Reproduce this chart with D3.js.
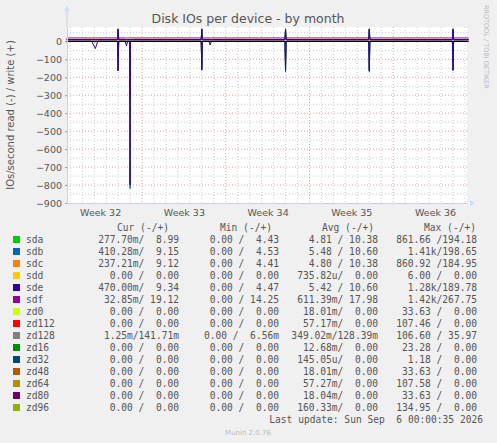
<!DOCTYPE html>
<html>
<head>
<meta charset="UTF-8">
<script src="https://cdn.jsdelivr.net/npm/d3@7"></script>
<style>
  body { margin: 0; background: #f0f0f0; }
  text { font-family: "DejaVu Sans", sans-serif; fill: #555; }
  .mono { font-family: "DejaVu Sans Mono", monospace; font-size: 9.6px; white-space: pre; fill: #555; }
</style>
</head>
<body>
<div id="chart"></div>
<script>
// time in days since start of week 32
const days = [0.7, 2.8, 3.1, 3.3, 4.95, 5.0, 5.05, 5.6, 5.7, 5.8, 5.97, 6.0, 6.03, 6.2,
  11.95, 12.0, 12.05, 12.6, 12.7, 12.8, 18.95, 19.0, 19.05, 25.95, 26.0, 26.05, 32.95, 33.0, 33.05, 34.3];
const weekLabels = ["Week 32", "Week 33", "Week 34", "Week 35", "Week 36"];

// write (+) and read (-) series
const sdaW = [9,9,9,9,9,66,9,9,9,9,9,9,9,9,9,66,9,9,9,9,9,66,9,9,66,9,9,66,9,9];
const sdaR = [0,0,0,0,0,150,0,0,0,0,0,0,0,0,0,150,0,0,0,0,0,155,0,0,155,0,0,150,0,0];
const sdbW = [10,10,10,10,10,68,10,10,10,10,10,10,10,10,10,68,10,10,10,10,10,68,10,10,68,10,10,68,10,10];
const sdbR = [0,0,0,0,0,160,0,0,0,0,0,820,0,0,0,160,0,0,0,0,0,165,0,0,165,0,0,160,0,0];
const sdcW = [9,9,9,9,9,64,9,9,9,9,9,9,9,9,9,64,9,9,9,9,9,64,9,9,64,9,9,64,9,9];
const sdcR = [0,0,0,0,0,165,0,0,0,0,0,0,0,0,0,150,0,0,0,0,0,150,0,0,150,0,0,150,0,0];
const sdeW = [10,10,10,10,10,70,10,10,10,10,10,10,10,10,10,70,10,10,10,10,10,70,10,10,70,10,10,70,10,10];
const sdeR = [0,0,40,0,0,165,0,0,25,0,0,800,0,0,0,160,0,0,20,0,0,168,0,0,168,0,0,162,0,0];
const sdfW = [19,19,19,19,19,22,19,19,19,19,19,19,19,19,19,22,19,19,19,19,19,22,19,19,22,19,19,22,19,19];
const sdfR = [0,0,2,0,0,5,0,0,2,0,0,310,0,0,0,5,0,0,2,0,0,5,0,0,5,0,0,5,0,0];

const names = ["sda","sdb","sdc","sdd","sde","sdf","zd0","zd112","zd128","zd16","zd32","zd48","zd64","zd80","zd96"];
const colors = ["#00cc00","#0066b3","#ff8000","#ffcc00","#330099","#990099","#ccff00","#ff0000","#808080","#008f00","#00487d","#b35a00","#b38f00","#6b006b","#8fb300"];
const cur = ["277.70m/  8.99","410.28m/  9.15","237.21m/  9.12","  0.00 /  0.00","470.00m/  9.34"," 32.85m/ 19.12","  0.00 /  0.00","  0.00 /  0.00","  1.25m/141.71m","  0.00 /  0.00","  0.00 /  0.00","  0.00 /  0.00","  0.00 /  0.00","  0.00 /  0.00","  0.00 /  0.00"];
const mins = ["0.00 /  4.43","0.00 /  4.53","0.00 /  4.41","0.00 /  0.00","0.00 /  4.47","0.00 / 14.25","0.00 /  0.00","0.00 /  0.00","0.00 /  6.56m","0.00 /  0.00","0.00 /  0.00","0.00 /  0.00","0.00 /  0.00","0.00 /  0.00","0.00 /  0.00"];
const avgs = ["4.81 / 10.38","5.48 / 10.60","4.80 / 10.38","735.82u/  0.00","5.42 / 10.60","611.39m/ 17.98","18.01m/  0.00","57.17m/  0.00","349.02m/128.39m","12.68m/  0.00","145.05u/  0.00","18.01m/  0.00","57.27m/  0.00","18.04m/  0.00","160.33m/  0.00"];
const maxs = ["861.66 /194.18","1.41k/198.65","860.92 /184.95","6.00 /  0.00","1.28k/189.78","1.42k/267.75","33.63 /  0.00","107.46 /  0.00","106.60 / 35.97","23.28 /  0.00","1.18 /  0.00","33.63 /  0.00","107.58 /  0.00","33.63 /  0.00","134.95 /  0.00"];

const series = [
  {c: colors[0], w: sdaW, r: sdaR}, {c: colors[2], w: sdcW, r: sdcR},
  {c: colors[1], w: sdbW, r: sdbR}, {c: colors[5], w: sdfW, r: sdfR},
  {c: colors[4], w: sdeW, r: sdeR}
];

const W = 497, H = 443;
const L = 67, R = 467, T = 27, B = 203;
const svg = d3.select("#chart").append("svg").attr("width", W).attr("height", H);
svg.append("rect").attr("width", W).attr("height", H).attr("fill", "#f0f0f0");
svg.append("rect").attr("x", L).attr("y", T).attr("width", R - L).attr("height", B - T).attr("fill", "#fff");

const x = d3.scaleLinear().domain([0.73, 34.17]).range([L, R]);
const y = d3.scaleLinear().domain([-900, 80]).range([B, T]);

// grid
const g = svg.append("g");
g.selectAll(".vd").data(d3.range(1, 35)).join("line")
  .attr("x1", d => x(d)).attr("x2", d => x(d)).attr("y1", T).attr("y2", B)
  .attr("stroke", d => d % 7 === 0 ? "#e8a0a0" : "#ccc").attr("stroke-dasharray", "1,2");
g.selectAll(".hd").data(d3.range(-850, 80, 50)).join("line")
  .attr("x1", L).attr("x2", R).attr("y1", d => y(d)).attr("y2", d => y(d))
  .attr("stroke", d => d % 100 === 0 ? "#e8a0a0" : "#ccc").attr("stroke-dasharray", "1,2");

// lines
const line = d3.line().x((d, i) => x(days[i]));
series.forEach(s => {
  svg.append("path").attr("d", line.y(d => y(d))(s.w)).attr("fill", "none").attr("stroke", s.c).attr("stroke-width", 1);
  svg.append("path").attr("d", line.y(d => y(-d))(s.r)).attr("fill", "none").attr("stroke", s.c).attr("stroke-width", 1);
});
svg.append("line").attr("x1", L).attr("x2", R).attr("y1", y(0)).attr("y2", y(0)).attr("stroke", "#000");

// axes
const yAxis = d3.axisLeft(y).tickValues(d3.range(-900, 1, 100)).tickSize(2).tickSizeOuter(0);
const ya = svg.append("g").attr("transform", `translate(${L},0)`).call(yAxis);
ya.selectAll("text").style("font-size", "9.5px").attr("fill", "#555");
ya.select(".domain").attr("stroke", "#ccd");
ya.selectAll(".tick line").attr("stroke", "#999");
const xAxis = d3.axisBottom(x).tickValues([3.5, 10.5, 17.5, 24.5, 31.5])
  .tickFormat((d, i) => weekLabels[i]).tickSize(0).tickSizeOuter(0);
const xa = svg.append("g").attr("transform", `translate(0,${B})`).call(xAxis);
xa.selectAll("text").style("font-size", "9.5px").attr("fill", "#555").attr("dy", "1.1em");
xa.select(".domain").attr("stroke", "#ccd");
svg.append("path").attr("d", `M${R+3},${B-3}L${R+8},${B}L${R+3},${B+3}Z`).attr("fill", "#ccdcff");
svg.append("path").attr("d", `M${L-3},${T-16}L${L},${T-21}L${L+3},${T-16}Z`).attr("fill", "#ccdcff");
svg.append("line").attr("x1", L).attr("x2", L).attr("y1", T - 16).attr("y2", T).attr("stroke", "#ccd");

// texts
svg.append("text").attr("x", 248).attr("y", 23).attr("text-anchor", "middle").style("font-size", "12.5px").attr("fill", "#444").text("Disk IOs per device - by month");
svg.append("text").attr("transform", "translate(14,115) rotate(-90)").attr("text-anchor", "middle").style("font-size", "10px").text("IOs/second read (-) / write (+)");
svg.append("text").attr("transform", "translate(484,5) rotate(90)").style("font-size", "6.5px").style("fill", "#bbb").text("RRDTOOL / TOBI OETIKER");

// legend
const heads = [["Cur (-/+)", 169], ["Min (-/+)", 272], ["Avg (-/+)", 374], ["Max (-/+)", 476]];
heads.forEach(h => svg.append("text").attr("class", "mono").attr("x", h[1]).attr("y", 231).attr("text-anchor", "end").text(h[0]));
const row = svg.append("g").selectAll("g").data(names).join("g")
  .attr("transform", (d, i) => `translate(0,${243 + i * 12})`);
row.append("rect").attr("x", 13).attr("y", -7).attr("width", 7).attr("height", 7).attr("fill", (d, i) => colors[i]);
row.append("text").attr("class", "mono").attr("x", 26).text(d => d);
row.append("text").attr("class", "mono").attr("x", 179).attr("text-anchor", "end").text((d, i) => cur[i]);
row.append("text").attr("class", "mono").attr("x", 279).attr("text-anchor", "end").text((d, i) => mins[i]);
row.append("text").attr("class", "mono").attr("x", 378).attr("text-anchor", "end").text((d, i) => avgs[i]);
row.append("text").attr("class", "mono").attr("x", 477).attr("text-anchor", "end").text((d, i) => maxs[i]);
svg.append("text").attr("class", "mono").attr("x", 483).attr("y", 423).attr("text-anchor", "end").text("Last update: Sun Sep  6 00:00:35 2026");
svg.append("text").attr("x", 248).attr("y", 435).attr("text-anchor", "middle").style("font-size", "7px").style("fill", "#bbb").text("Munin 2.0.76");
</script>
</body>
</html>
